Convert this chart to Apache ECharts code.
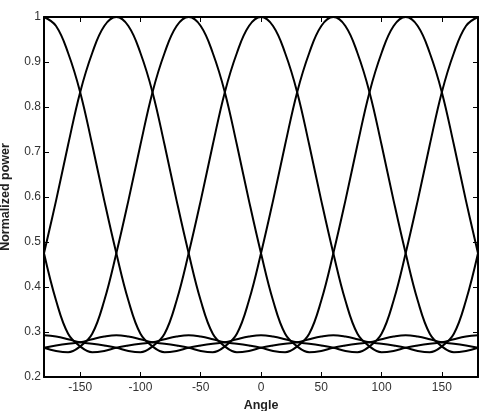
<!DOCTYPE html>
<html>
<head>
<meta charset="utf-8">
<script src="https://cdn.jsdelivr.net/npm/echarts@6/dist/echarts.min.js"></script>
<style>
  html, body { margin: 0; padding: 0; background: #fff; }
  #chart { width: 481px; height: 411px; }
</style>
</head>
<body>
<div id="chart"></div>
<script>
// angles every 10 degrees, -180 .. 180
const angles = [-180, -170, -160, -150, -140, -130, -120, -110, -100, -90, -80, -70, -60, -50, -40, -30, -20, -10,
  0, 10, 20, 30, 40, 50, 60, 70, 80, 90, 100, 110, 120, 130, 140, 150, 160, 170, 180];

// one beam per pointing direction
const beamM120 = [0.475, 0.592, 0.716, 0.833, 0.920, 0.980, 1.000, 0.980, 0.920, 0.833, 0.716, 0.592, 0.475, 0.370,
  0.296, 0.268, 0.255, 0.258, 0.265, 0.270, 0.274, 0.277, 0.284, 0.290, 0.293, 0.290, 0.284, 0.277, 0.274, 0.270,
  0.265, 0.258, 0.255, 0.268, 0.296, 0.370, 0.475];
const beamM60 = [0.265, 0.258, 0.255, 0.268, 0.296, 0.370, 0.475, 0.592, 0.716, 0.833, 0.920, 0.980, 1.000, 0.980,
  0.920, 0.833, 0.716, 0.592, 0.475, 0.370, 0.296, 0.268, 0.255, 0.258, 0.265, 0.270, 0.274, 0.277, 0.284, 0.290,
  0.293, 0.290, 0.284, 0.277, 0.274, 0.270, 0.265];
const beam0 = [0.293, 0.290, 0.284, 0.277, 0.274, 0.270, 0.265, 0.258, 0.255, 0.268, 0.296, 0.370, 0.475, 0.592,
  0.716, 0.833, 0.920, 0.980, 1.000, 0.980, 0.920, 0.833, 0.716, 0.592, 0.475, 0.370, 0.296, 0.268, 0.255, 0.258,
  0.265, 0.270, 0.274, 0.277, 0.284, 0.290, 0.293];
const beam60 = [0.265, 0.270, 0.274, 0.277, 0.284, 0.290, 0.293, 0.290, 0.284, 0.277, 0.274, 0.270, 0.265, 0.258,
  0.255, 0.268, 0.296, 0.370, 0.475, 0.592, 0.716, 0.833, 0.920, 0.980, 1.000, 0.980, 0.920, 0.833, 0.716, 0.592,
  0.475, 0.370, 0.296, 0.268, 0.255, 0.258, 0.265];
const beam120 = [0.475, 0.370, 0.296, 0.268, 0.255, 0.258, 0.265, 0.270, 0.274, 0.277, 0.284, 0.290, 0.293, 0.290,
  0.284, 0.277, 0.274, 0.270, 0.265, 0.258, 0.255, 0.268, 0.296, 0.370, 0.475, 0.592, 0.716, 0.833, 0.920, 0.980,
  1.000, 0.980, 0.920, 0.833, 0.716, 0.592, 0.475];
const beam180 = [1.000, 0.980, 0.920, 0.833, 0.716, 0.592, 0.475, 0.370, 0.296, 0.268, 0.255, 0.258, 0.265, 0.270,
  0.274, 0.277, 0.284, 0.290, 0.293, 0.290, 0.284, 0.277, 0.274, 0.270, 0.265, 0.258, 0.255, 0.268, 0.296, 0.370,
  0.475, 0.592, 0.716, 0.833, 0.920, 0.980, 1.000];

const beams = [beamM120, beamM60, beam0, beam60, beam120, beam180];
const xTicks = [-150, -100, -50, 0, 50, 100, 150];

const chart = echarts.init(document.getElementById('chart'), null, { renderer: 'canvas' });

const font = 'Liberation Sans, Arial, sans-serif';
const frame = { show: true, onZero: false, lineStyle: { color: '#000', width: 2 } };

chart.setOption({
  animation: false,
  backgroundColor: '#fff',
  grid: { left: 44, right: 3, top: 17, bottom: 34, outerBoundsMode: 'none', containLabel: false },
  xAxis: [
    {
      type: 'value',
      min: -180,
      max: 180,
      name: 'Angle',
      nameLocation: 'middle',
      nameGap: 21,
      nameTextStyle: { fontFamily: font, fontSize: 12.5, fontWeight: 'bold', color: '#222' },
      axisLine: frame,
      axisTick: { show: true, inside: true, length: 5, customValues: xTicks, lineStyle: { color: '#000', width: 1 } },
      axisLabel: { customValues: xTicks, fontFamily: font, fontSize: 12, color: '#333', margin: 5 },
      splitLine: { show: false },
    },
    {
      type: 'value',
      position: 'top',
      min: -180,
      max: 180,
      axisLine: frame,
      axisTick: { show: true, inside: true, length: 5, customValues: xTicks, lineStyle: { color: '#000', width: 1 } },
      axisLabel: { show: false },
      splitLine: { show: false },
    },
  ],
  yAxis: [
    {
      type: 'value',
      min: 0.2,
      max: 1,
      interval: 0.1,
      name: 'Normalized power',
      nameLocation: 'middle',
      nameGap: 32,
      nameTextStyle: { fontFamily: font, fontSize: 12.5, fontWeight: 'bold', color: '#222' },
      axisLine: frame,
      axisTick: { show: true, inside: true, length: 5, lineStyle: { color: '#000', width: 1 } },
      axisLabel: {
        fontFamily: font, fontSize: 12, color: '#333', margin: 3,
        formatter: v => (Math.abs(v - 1) < 1e-9 ? '1' : v.toFixed(1)),
      },
      splitLine: { show: false },
    },
    {
      type: 'value',
      position: 'right',
      min: 0.2,
      max: 1,
      interval: 0.1,
      axisLine: frame,
      axisTick: { show: true, inside: true, length: 5, lineStyle: { color: '#000', width: 1 } },
      axisLabel: { show: false },
      splitLine: { show: false },
    },
  ],
  series: beams.map(b => ({
    type: 'line',
    xAxisIndex: 0,
    yAxisIndex: 0,
    smooth: 0.4,
    symbol: 'none',
    lineStyle: { color: '#000', width: 2 },
    data: angles.map((a, i) => [a, b[i]]),
  })),
});
</script>
</body>
</html>
